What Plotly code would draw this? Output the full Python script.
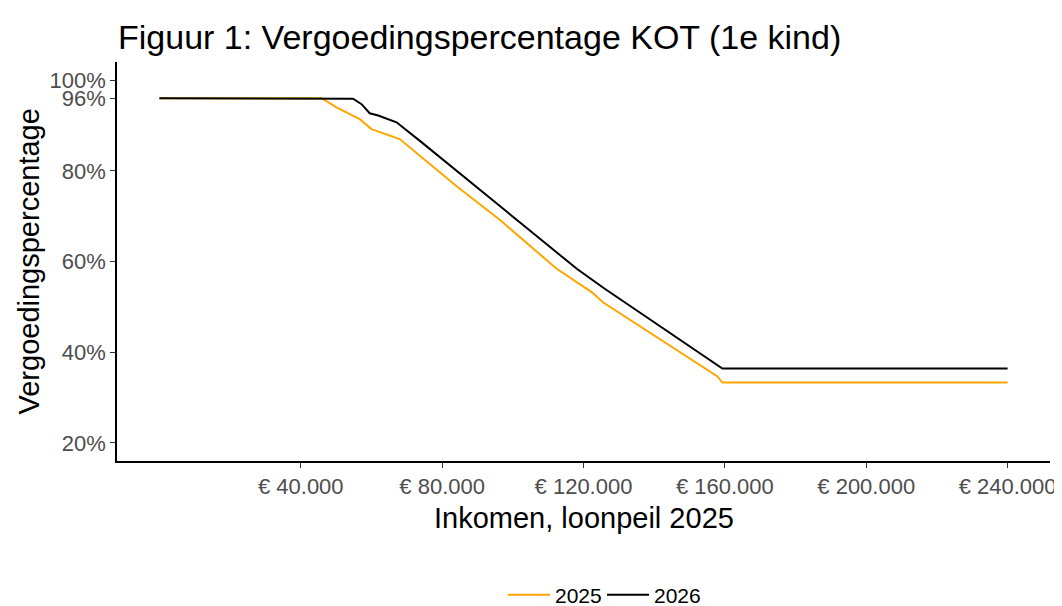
import plotly.graph_objects as go

# Income (euro) and compensation percentage
inkomen_2025 = [0, 45900, 50100, 56700, 60000, 66600, 68000, 84100, 96300, 112400, 122400, 125500, 157800, 159300, 240000]
pct_2025 = [0.96, 0.96, 0.940, 0.914, 0.892, 0.873, 0.870, 0.766, 0.692, 0.584, 0.532, 0.510, 0.347, 0.333, 0.333]

inkomen_2026 = [0, 52400, 54800, 57200, 59500, 61900, 67100, 73700, 96300, 113400, 118100, 125600, 159300, 240000]
pct_2026 = [0.96, 0.96, 0.959, 0.947, 0.927, 0.922, 0.907, 0.866, 0.722, 0.614, 0.584, 0.542, 0.364, 0.364]

x_tickvals = [40000, 80000, 120000, 160000, 200000, 240000]
x_ticktext = ["€ 40.000", "€ 80.000", "€ 120.000", "€ 160.000", "€ 200.000", "€ 240.000"]
y_tickvals = [0.2, 0.4, 0.6, 0.8, 0.96, 1.0]
y_ticktext = ["20%", "40%", "60%", "80%", "96%", "100%"]

font_family = "Liberation Sans, Arial, sans-serif"
OFF = 8  # page body margin
W, H = 1062 - OFF, 606 - OFF
L, R, T, B = 117 - OFF, 12, 62 - OFF, 145
PW, PH = W - L - R, H - T - B

fig = go.Figure()
fig.add_trace(go.Scatter(x=inkomen_2025, y=pct_2025, mode="lines", name="2025",
                         line=dict(color="#FFA500", width=2)))
fig.add_trace(go.Scatter(x=inkomen_2026, y=pct_2026, mode="lines", name="2026",
                         line=dict(color="#000000", width=2)))

fig.update_layout(
    width=W, height=H,
    paper_bgcolor="white", plot_bgcolor="white",
    margin=dict(l=L, r=R, t=T, b=B, autoexpand=False),
    font=dict(family=font_family, color="black"),
    title=dict(text="Figuur 1: Vergoedingspercentage KOT (1e kind)",
               x=(118 - OFF)/W, xanchor="left", y=1-(37 - OFF)/H, yanchor="middle",
               font=dict(size=34, color="black", family=font_family)),
    showlegend=True,
    legend=dict(orientation="h", x=(503-117)/PW, xanchor="left", y=-(595-461)/PH, yanchor="middle",
                font=dict(size=21, color="black"), itemwidth=42,
                entrywidth=42, entrywidthmode="pixels",
                bgcolor="rgba(0,0,0,0)"),
    xaxis=dict(range=[-12000, 252000], tickvals=x_tickvals, ticktext=x_ticktext,
               showgrid=False, zeroline=False, showline=True, linecolor="black", linewidth=1.5,
               ticks="outside", ticklen=5, tickcolor="#333333", tickwidth=1.2,
               tickfont=dict(size=22, color="#4D4D4D"), automargin=False),
    yaxis=dict(range=[0.16, 1.04], tickvals=y_tickvals, ticktext=y_ticktext,
               showgrid=False, zeroline=False, showline=True, linecolor="black", linewidth=1.5,
               ticks="outside", ticklen=5, tickcolor="#333333", tickwidth=1.2,
               tickfont=dict(size=22, color="#4D4D4D"), automargin=False),
    annotations=[
        dict(text="Inkomen, loonpeil 2025", xref="paper", yref="paper",
             x=0.5, y=-(518-461)/PH, xanchor="center", yanchor="middle",
             showarrow=False, font=dict(size=29, color="black")),
        dict(text="Vergoedingspercentage", xref="paper", yref="paper",
             x=-(117-28)/PW, y=0.5, xanchor="center", yanchor="middle", textangle=-90,
             showarrow=False, font=dict(size=29, color="black")),
    ],
)

fig.write_html("out.html")
